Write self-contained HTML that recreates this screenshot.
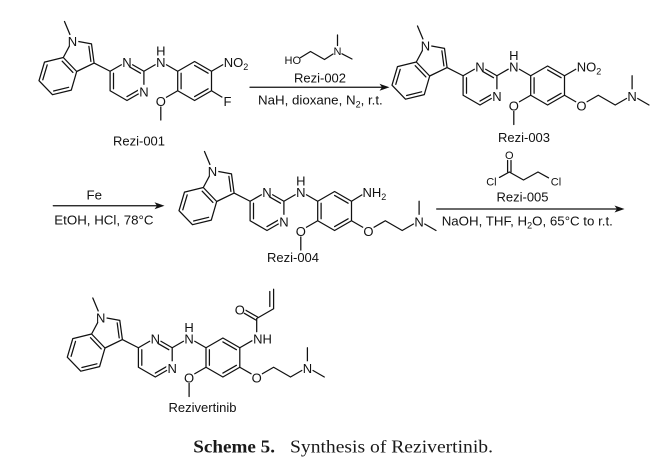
<!DOCTYPE html>
<html><head><meta charset="utf-8"><style>
html,body{margin:0;padding:0;background:#fff;}
svg{display:block;}
.b{fill:none;stroke:#111;stroke-width:1.25;stroke-linecap:round;stroke-linejoin:round;}
text{font-family:"Liberation Sans",Arial,sans-serif;font-size:13px;fill:#111;}
.m{text-anchor:middle;}
.s{font-size:11px;}
.c{font-size:13.3px;}
.w{fill:#fff;stroke:none;}
.cap{font-family:"Liberation Serif","Times New Roman",serif;font-size:17.5px;fill:#1a1a1a;}
</style></head><body>
<svg width="661" height="467" viewBox="0 0 661 467" xmlns="http://www.w3.org/2000/svg">
<rect width="661" height="467" fill="#fff"/>

<!-- ===== Rezi-001 ===== -->
<g transform="translate(0,0)">
<path class="b" d="M64.5 21.5L72.4 40.4L91.5 43.9L94.1 63.1L76.7 71.5L63.3 57.5L72.4 40.4M63.3 57.5L44.5 62.1L39 80.7L52.5 94.7L71.3 90.1L76.7 71.5M88.9 46.4L90.9 61.4M47.2 64.9L42.8 79.8M53.6 91L68.6 87.3M72.9 72.4L62.2 61.2M94.1 63.1L110.1 71.25M110.1 71.25L127 61.5L143.9 71.25L143.9 90.75L127 100.5L110.1 90.75ZM127 65.4L140.5 73.2M113.5 73.2L113.5 88.8M127 96.6L140.5 88.8M143.9 71.25L160.8 61.5L177.7 71.25M177.7 71.25L194.6 61.5L211.5 71.25L211.5 90.75L194.6 100.5L177.7 90.75ZM181.1 73.2L181.1 88.8M194.6 65.4L208.1 73.2M208.1 88.8L194.6 96.6M177.7 90.75L160.8 100.5L160.8 120"/>
<path class="b" d="M211.5 71.25L228.4 61.5M211.5 90.75L227.5 100.5"/>
<circle class="w" cx="72.4" cy="40.4" r="6"/><circle class="w" cx="127" cy="61.5" r="6"/><circle class="w" cx="143.9" cy="90.75" r="6"/><circle class="w" cx="160.8" cy="61.5" r="6"/><circle class="w" cx="160.8" cy="100.5" r="6"/>
<circle class="w" cx="228.4" cy="61.5" r="6"/><circle class="w" cx="227.5" cy="100.5" r="6"/>
<text class="m" x="72.4" y="45.9">N</text><text class="m" x="127" y="67">N</text><text class="m" x="143.9" y="96.25">N</text><text class="m" x="160.8" y="67">N</text><text class="m" x="160.8" y="55.5">H</text><text class="m" x="160.8" y="106">O</text>
<text x="223.7" y="67">NO<tspan font-size="9" dy="3">2</tspan></text>
<text class="m" x="227.5" y="106">F</text>
</g>
<text class="m" x="139" y="145.5">Rezi-001</text>

<!-- ===== Arrow 1 ===== -->
<path class="b" d="M250 87.3L383 87.3"/>
<polygon points="389.5,87.3 379.5,83.8 382,87.3 379.5,90.8" fill="#111"/>
<path class="b" d="M300.5 57.6L310.5 51.5L324.5 59.5L333 54M337.5 45.5L337.5 35M342 53.8L352 59"/>
<text class="s" x="301" y="64" text-anchor="end">HO</text>
<text class="s m" x="337.5" y="55">N</text>
<text class="m" x="320" y="82.5">Rezi-002</text>
<text class="c" x="258" y="104.5">NaH, dioxane, N<tspan font-size="9" dy="3">2</tspan><tspan dy="-3">, r.t.</tspan></text>

<!-- ===== Rezi-003 ===== -->
<g transform="translate(353,4.5)">
<path class="b" d="M64.5 21.5L72.4 40.4L91.5 43.9L94.1 63.1L76.7 71.5L63.3 57.5L72.4 40.4M63.3 57.5L44.5 62.1L39 80.7L52.5 94.7L71.3 90.1L76.7 71.5M88.9 46.4L90.9 61.4M47.2 64.9L42.8 79.8M53.6 91L68.6 87.3M72.9 72.4L62.2 61.2M94.1 63.1L110.1 71.25M110.1 71.25L127 61.5L143.9 71.25L143.9 90.75L127 100.5L110.1 90.75ZM127 65.4L140.5 73.2M113.5 73.2L113.5 88.8M127 96.6L140.5 88.8M143.9 71.25L160.8 61.5L177.7 71.25M177.7 71.25L194.6 61.5L211.5 71.25L211.5 90.75L194.6 100.5L177.7 90.75ZM181.1 73.2L181.1 88.8M194.6 65.4L208.1 73.2M208.1 88.8L194.6 96.6M177.7 90.75L160.8 100.5L160.8 120"/>
<path class="b" d="M211.5 71.25L228.4 61.5M211.5 90.75L228.4 100.5L245.3 90.75L262.2 100.5L279.1 90.75L279.1 71.25M279.1 90.75L296 100.5"/>
<circle class="w" cx="72.4" cy="40.4" r="6"/><circle class="w" cx="127" cy="61.5" r="6"/><circle class="w" cx="143.9" cy="90.75" r="6"/><circle class="w" cx="160.8" cy="61.5" r="6"/><circle class="w" cx="160.8" cy="100.5" r="6"/>
<circle class="w" cx="228.4" cy="61.5" r="6"/><circle class="w" cx="228.4" cy="100.5" r="6"/><circle class="w" cx="279.1" cy="90.75" r="6"/>
<text class="m" x="72.4" y="45.9">N</text><text class="m" x="127" y="67">N</text><text class="m" x="143.9" y="96.25">N</text><text class="m" x="160.8" y="67">N</text><text class="m" x="160.8" y="55.5">H</text><text class="m" x="160.8" y="106">O</text>
<text x="223.7" y="67">NO<tspan font-size="9" dy="3">2</tspan></text>
<text class="m" x="228.4" y="106">O</text><text class="m" x="279.1" y="96.25">N</text>
</g>
<text class="m" x="524" y="142">Rezi-003</text>

<!-- ===== Arrow 2 ===== -->
<path class="b" d="M53.3 205.7L158 205.7"/>
<polygon points="164.5,205.7 154.5,202.2 157,205.7 154.5,209.2" fill="#111"/>
<text class="c m" x="94.3" y="199.5">Fe</text>
<text class="c" x="54.3" y="224.5">EtOH, HCl, 78°C</text>

<!-- ===== Rezi-004 ===== -->
<g transform="translate(140,130)">
<path class="b" d="M64.5 21.5L72.4 40.4L91.5 43.9L94.1 63.1L76.7 71.5L63.3 57.5L72.4 40.4M63.3 57.5L44.5 62.1L39 80.7L52.5 94.7L71.3 90.1L76.7 71.5M88.9 46.4L90.9 61.4M47.2 64.9L42.8 79.8M53.6 91L68.6 87.3M72.9 72.4L62.2 61.2M94.1 63.1L110.1 71.25M110.1 71.25L127 61.5L143.9 71.25L143.9 90.75L127 100.5L110.1 90.75ZM127 65.4L140.5 73.2M113.5 73.2L113.5 88.8M127 96.6L140.5 88.8M143.9 71.25L160.8 61.5L177.7 71.25M177.7 71.25L194.6 61.5L211.5 71.25L211.5 90.75L194.6 100.5L177.7 90.75ZM181.1 73.2L181.1 88.8M194.6 65.4L208.1 73.2M208.1 88.8L194.6 96.6M177.7 90.75L160.8 100.5L160.8 120"/>
<path class="b" d="M211.5 71.25L227.4 61.5M211.5 90.75L228.4 100.5L245.3 90.75L262.2 100.5L279.1 90.75L279.1 71.25M279.1 90.75L296 100.5"/>
<circle class="w" cx="72.4" cy="40.4" r="6"/><circle class="w" cx="127" cy="61.5" r="6"/><circle class="w" cx="143.9" cy="90.75" r="6"/><circle class="w" cx="160.8" cy="61.5" r="6"/><circle class="w" cx="160.8" cy="100.5" r="6"/>
<circle class="w" cx="227.4" cy="61.5" r="6"/><circle class="w" cx="228.4" cy="100.5" r="6"/><circle class="w" cx="279.1" cy="90.75" r="6"/>
<text class="m" x="72.4" y="45.9">N</text><text class="m" x="127" y="67">N</text><text class="m" x="143.9" y="96.25">N</text><text class="m" x="160.8" y="67">N</text><text class="m" x="160.8" y="55.5">H</text><text class="m" x="160.8" y="106">O</text>
<text x="222.5" y="67">NH<tspan font-size="9" dy="3">2</tspan></text>
<text class="m" x="228.4" y="106">O</text><text class="m" x="279.1" y="96.25">N</text>
</g>
<text class="m" x="293" y="262">Rezi-004</text>

<!-- ===== Arrow 3 ===== -->
<path class="b" d="M436.7 209L618 209"/>
<polygon points="624.5,209 614.5,205.5 617,209 614.5,212.5" fill="#111"/>
<path class="b" d="M507.6 160.5L507.6 172M511 160.5L511 172M509.3 172L499.5 177.4M509.3 172L523.5 180L538 172L548.5 177.8"/>
<text class="s m" x="509.3" y="159">O</text>
<text class="s" x="486.2" y="185.5">Cl</text>
<text class="s" x="550.8" y="185.5">Cl</text>
<text class="m" x="522.5" y="201.3">Rezi-005</text>
<text class="c" x="441.7" y="225.5">NaOH, THF, H<tspan font-size="9" dy="3">2</tspan><tspan dy="-3">O, 65°C to r.t.</tspan></text>

<!-- ===== Rezivertinib ===== -->
<g transform="translate(28.3,276.5)">
<path class="b" d="M64.5 21.5L72.4 40.4L91.5 43.9L94.1 63.1L76.7 71.5L63.3 57.5L72.4 40.4M63.3 57.5L44.5 62.1L39 80.7L52.5 94.7L71.3 90.1L76.7 71.5M88.9 46.4L90.9 61.4M47.2 64.9L42.8 79.8M53.6 91L68.6 87.3M72.9 72.4L62.2 61.2M94.1 63.1L110.1 71.25M110.1 71.25L127 61.5L143.9 71.25L143.9 90.75L127 100.5L110.1 90.75ZM127 65.4L140.5 73.2M113.5 73.2L113.5 88.8M127 96.6L140.5 88.8M143.9 71.25L160.8 61.5L177.7 71.25M177.7 71.25L194.6 61.5L211.5 71.25L211.5 90.75L194.6 100.5L177.7 90.75ZM181.1 73.2L181.1 88.8M194.6 65.4L208.1 73.2M208.1 88.8L194.6 96.6M177.7 90.75L160.8 100.5L160.8 120"/>
<path class="b" d="M211.5 90.75L228.4 100.5L245.3 90.75L262.2 100.5L279.1 90.75L279.1 71.25M279.1 90.75L296 100.5"/>
<path class="b" d="M211.5 71.25L228.4 61.5L228.4 42M229.25 40.5L212.35 30.8M227.55 43.5L210.65 33.7M228.4 42L245.3 32.25L245.3 12.75M241.5 30L241.5 15"/>
<circle class="w" cx="72.4" cy="40.4" r="6"/><circle class="w" cx="127" cy="61.5" r="6"/><circle class="w" cx="143.9" cy="90.75" r="6"/><circle class="w" cx="160.8" cy="61.5" r="6"/><circle class="w" cx="160.8" cy="100.5" r="6"/>
<circle class="w" cx="229.5" cy="61.5" r="6"/><circle class="w" cx="211.5" cy="32.25" r="6"/><circle class="w" cx="228.4" cy="100.5" r="6"/><circle class="w" cx="279.1" cy="90.75" r="6"/>
<text class="m" x="72.4" y="45.9">N</text><text class="m" x="127" y="67">N</text><text class="m" x="143.9" y="96.25">N</text><text class="m" x="160.8" y="67">N</text><text class="m" x="160.8" y="55.5">H</text><text class="m" x="160.8" y="106">O</text>
<text x="224.8" y="67">NH</text>
<text class="m" x="211.5" y="37.75">O</text>
<text class="m" x="228.4" y="106">O</text><text class="m" x="279.1" y="96.25">N</text>
</g>
<text class="m" x="202.5" y="412">Rezivertinib</text>

<!-- ===== Caption ===== -->
<text class="cap" x="193.3" y="452.3" font-weight="bold" textLength="81.7" lengthAdjust="spacingAndGlyphs">Scheme 5.</text>
<text class="cap" x="290" y="452.3" textLength="203" lengthAdjust="spacingAndGlyphs">Synthesis of Rezivertinib.</text>
</svg>
</body></html>
